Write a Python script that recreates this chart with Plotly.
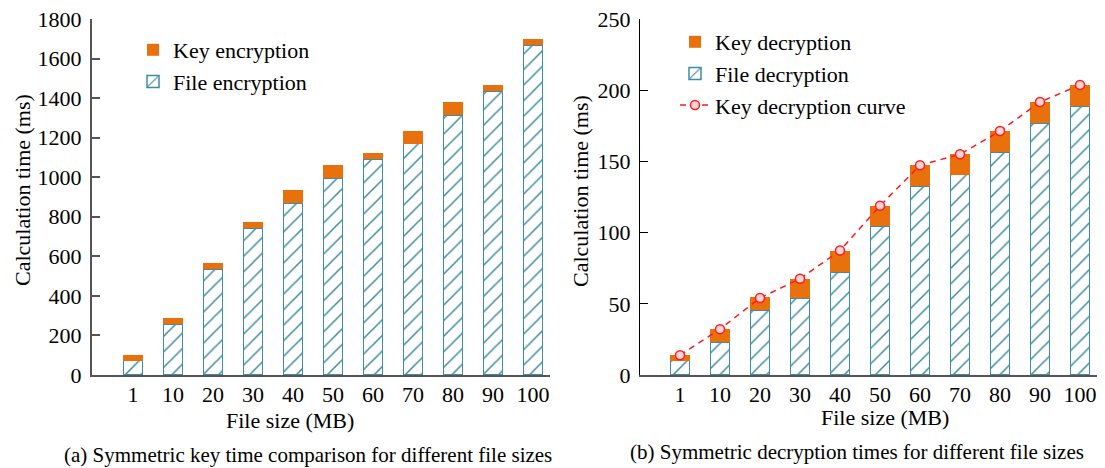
import plotly.graph_objects as go

sizes = ["1", "10", "20", "30", "40", "50", "60", "70", "80", "90", "100"]

# (a) encryption times (ms)
file_enc = [73, 258, 535, 743, 870, 997, 1090, 1170, 1315, 1437, 1668]
key_enc = [28, 30, 30, 29, 64, 63, 30, 63, 65, 29, 31]

# (b) decryption times (ms)
file_dec = [10.1, 23.0, 45.7, 54.1, 72.4, 104.3, 132.8, 140.8, 156.7, 176.9, 188.9]
key_dec = [4.0, 9.1, 8.9, 13.4, 14.5, 14.5, 14.6, 14.3, 14.6, 14.5, 14.7]
key_curve = [13.9, 32.2, 54.1, 67.6, 87.4, 118.8, 147.3, 155.0, 171.3, 191.7, 203.7]

ORANGE = "#E8710E"
TEAL = "#3F8CA3"
FONT = "Liberation Serif"
# the page body has an 8px margin, so the figure is drawn 8px in from the window edge
OFF = 8
W, H = 1105 - OFF, 468 - OFF

def px_x(x):
    return (x - OFF) / W

def px_y(y):
    return 1 - (y - OFF) / H

fig = go.Figure()

hatch = dict(shape="/", fgcolor=TEAL, bgcolor="white", size=11, solidity=0.14)

fig.add_trace(go.Bar(x=sizes, y=file_enc, name="File encryption", xaxis="x", yaxis="y",
                     marker=dict(color="white", pattern=hatch, line=dict(color=TEAL, width=1.5)),
                     width=0.48, legend="legend", legendrank=2))
fig.add_trace(go.Bar(x=sizes, y=key_enc, name="Key encryption", xaxis="x", yaxis="y",
                     marker=dict(color=ORANGE, line=dict(width=0)),
                     width=0.48, legend="legend", legendrank=1))

fig.add_trace(go.Bar(x=sizes, y=file_dec, name="File decryption", xaxis="x2", yaxis="y2",
                     marker=dict(color="white", pattern=hatch, line=dict(color=TEAL, width=1.5)),
                     width=0.48, legend="legend2", legendrank=2))
fig.add_trace(go.Bar(x=sizes, y=key_dec, name="Key decryption", xaxis="x2", yaxis="y2",
                     marker=dict(color=ORANGE, line=dict(width=0)),
                     width=0.48, legend="legend2", legendrank=1))
fig.add_trace(go.Scatter(x=sizes, y=key_curve, name="Key decryption curve", xaxis="x2", yaxis="y2",
                         mode="lines+markers",
                         line=dict(color="#FF1A1A", width=1.5, dash="6px,5px"),
                         marker=dict(symbol="circle", size=9, color="#F8D3D8",
                                     line=dict(color="#FF1A1A", width=1.5)),
                         legend="legend2", legendrank=3))

axis_common = dict(showgrid=False, zeroline=False, showline=True, mirror=False,
                   automargin=False, ticklabeloverflow="allow")
ydom = [px_y(375), px_y(19)]

fig.update_layout(
    template="none",
    width=W, height=H,
    margin=dict(l=0, r=0, t=0, b=0, pad=0, autoexpand=False),
    paper_bgcolor="white", plot_bgcolor="white",
    font=dict(family=FONT, size=22, color="black"),
    barmode="stack",
    showlegend=True,
    xaxis=dict(**axis_common, domain=[px_x(92), px_x(550)], anchor="y",
               type="category", range=[-1.025, 10.425],
               linecolor="#555555", linewidth=2, ticks="", ticklabelstandoff=-1,
               tickfont=dict(size=22)),
    yaxis=dict(**axis_common, domain=ydom, anchor="x", range=[0, 1800], dtick=200,
               linecolor="#555555", linewidth=2, ticks="inside", ticklen=8,
               tickcolor="#555555", tickwidth=1.5, tickfont=dict(size=22),
               ticklabelstandoff=4),
    xaxis2=dict(**axis_common, domain=[px_x(640), px_x(1100)], anchor="y2",
                type="category", range=[-1.0, 10.5],
                linecolor="#555555", linewidth=2, ticks="", ticklabelstandoff=-1,
                tickfont=dict(size=22)),
    yaxis2=dict(**axis_common, domain=ydom, anchor="x2", range=[0, 250], dtick=50,
                linecolor="black", linewidth=1.2, ticks="inside", ticklen=8,
                tickcolor="black", tickwidth=1.2, tickfont=dict(size=22),
                ticklabelstandoff=4),
    legend=dict(x=px_x(133), y=px_y(29), xanchor="left", yanchor="top",
                bgcolor="rgba(0,0,0,0)", font=dict(size=22), traceorder="normal",
                itemwidth=30),
    legend2=dict(x=px_x(675), y=px_y(21), xanchor="left", yanchor="top",
                 bgcolor="rgba(0,0,0,0)", font=dict(size=22), traceorder="normal",
                 itemwidth=30),
)

annotations = [
    dict(text="Calculation time (ms)", x=px_x(23), y=px_y(190), textangle=-90, font=dict(size=22)),
    dict(text="Calculation time (ms)", x=px_x(580), y=px_y(191), textangle=-90, font=dict(size=22)),
    dict(text="File size (MB)", x=px_x(290), y=px_y(420), font=dict(size=22)),
    dict(text="File size (MB)", x=px_x(885), y=px_y(417), font=dict(size=22)),
    dict(text="(a) Symmetric key time comparison for different file sizes", x=px_x(308), y=px_y(455), font=dict(size=21)),
    dict(text="(b) Symmetric decryption times for different file sizes", x=px_x(857), y=px_y(452), font=dict(size=21)),
]
for a in annotations:
    a.update(xref="paper", yref="paper", showarrow=False, xanchor="center", yanchor="middle")
fig.update_layout(annotations=annotations)

fig.write_html("out.html")
